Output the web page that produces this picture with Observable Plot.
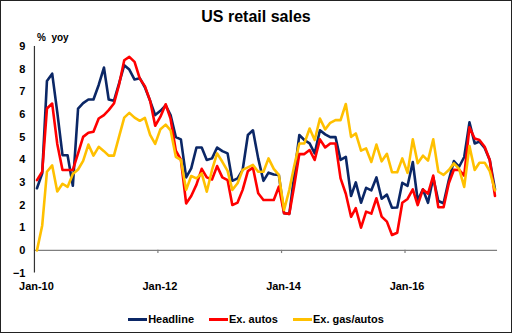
<!DOCTYPE html>
<html><head><meta charset="utf-8">
<script src="https://cdn.jsdelivr.net/npm/d3@7"></script>
<script src="https://cdn.jsdelivr.net/npm/@observablehq/plot@0.6"></script>
<style>
body{margin:0;background:#fff;}
#wrap{position:relative;width:512px;height:333px;box-sizing:border-box;border:1px solid #222;font-family:"Liberation Sans",Arial,sans-serif;overflow:hidden;background:#fff;color:#000}
#title{position:absolute;left:0;right:0;top:6px;text-align:center;font-weight:bold;font-size:16px;line-height:20px;}
#unit{position:absolute;left:36px;top:31px;font-weight:bold;font-size:10px;line-height:12px;white-space:pre}
#chart{position:absolute;left:-1px;top:27px}
#legend{position:absolute;left:0;right:0;top:312px;display:flex;justify-content:center;gap:15px;font-weight:bold;font-size:11px;line-height:12px}
#legend .it{display:flex;align-items:center}
#legend .sw{display:inline-block;width:19px;height:3px;margin-right:1px}
</style></head>
<body>
<div id="wrap">
  <div id="title">US retail sales</div>
  <div id="unit">%  yoy</div>
  <div id="chart"></div>
  <div id="legend"></div>
</div>
<script>
// Monthly, Jan-2010 ... Jun-2017 (% yoy)
const startYear = 2010;
const headline = [2.74,3.4,7.48,7.8,6.1,4.2,4.2,2.85,6.26,6.5,6.66,6.66,
  7.3,8.07,6.66,6.6,7.36,8.17,7.98,7.54,7.6,7.2,6.6,5.97,
  6.16,6.4,5.97,5.0,4.9,3.22,3.62,4.54,4.54,3.99,4.06,4.54,
  4.38,4.28,3.07,3.18,3.55,5.09,5.3,4.06,3.07,3.43,3.35,3.33,
  1.64,1.61,3.25,5.09,4.87,4.72,4.28,5.3,5.12,5.0,5.0,3.99,
  4.13,2.4,3.0,2.1,2.76,2.65,3.22,2.28,2.46,1.88,1.89,2.98,
  2.85,3.9,2.2,2.69,2.1,3.22,2.18,2.08,3.1,3.94,3.69,4.12,
  5.65,4.72,4.8,4.52,3.99,2.7];
const exAutos = [3.1,3.47,6.26,6.48,4.7,3.55,3.55,3.55,4.28,5.01,5.19,5.24,
  5.82,5.97,6.19,6.48,7.3,8.39,8.54,8.32,7.58,7.25,6.6,5.5,
  5.9,6.45,5.8,4.4,4.0,2.07,2.4,2.9,3.6,3.22,3.13,3.72,
  3.22,3.1,2.0,2.11,2.67,3.5,3.65,2.52,2.22,2.22,2.22,2.81,
  1.64,1.61,2.81,4.25,4.25,4.43,3.99,4.9,4.54,4.72,4.72,3.18,
  2.5,1.48,1.86,1.0,1.71,1.62,2.3,1.49,1.27,0.68,0.78,2.1,
  2.27,2.69,2.0,2.69,2.5,3.3,1.9,1.9,2.96,3.56,3.55,3.3,
  5.43,4.94,4.87,4.57,3.99,2.4];
const exGasAutos = [0,1.1,3.47,3.75,2.6,2.94,2.8,3.37,3.57,3.95,4.67,4.18,
  4.57,4.38,4.18,4.18,5.01,5.86,6.07,5.86,5.72,5.85,5.1,4.7,
  5.35,5.55,5.3,4.13,3.99,2.67,3.28,3.18,3.4,2.59,3.55,4.28,
  3.91,3.51,2.67,2.96,3.55,3.66,3.77,3.47,3.47,4.06,3.6,3.33,
  1.78,2.67,3.69,4.72,4.72,5.38,4.87,5.82,5.34,5.63,5.75,5.75,
  6.46,5.01,5.16,4.4,4.5,3.9,4.67,3.93,4.26,3.45,3.45,4.06,
  3.42,4.9,3.85,4.18,3.96,4.9,3.47,3.33,3.55,3.84,3.6,2.8,
  4.6,3.55,3.87,3.87,3.5,2.65];
const seriesNames = ["Headline","Ex. autos","Ex. gas/autos"];
const seriesColors = ["#0B2766","#FF0000","#FFC000"];
const tickYears = [2010,2012,2014,2016];
const tickLabels = ["Jan-10","Jan-12","Jan-14","Jan-16"];
const yTicks = [-1,0,1,2,3,4,5,6,7,8,9];

const dates = headline.map((_, i) => new Date(Date.UTC(startYear, i, 16)));
const rows = dates.map((d, i) => ({date: d, h: headline[i], a: exAutos[i], g: exGasAutos[i]}));
const tickDates = tickYears.map(y => new Date(Date.UTC(y, 0, 1)));
const x0 = new Date(Date.UTC(2010, 0, 1)), x1 = new Date(Date.UTC(2017, 6, 1));

const plot = Plot.plot({
  width: 512, height: 272,
  marginLeft: 34, marginRight: 14, marginTop: 18, marginBottom: 27,
  style: {fontFamily: "'Liberation Sans', Arial, sans-serif", fontSize: "11px", fontWeight: "bold", color: "#000", background: "transparent", overflow: "visible"},
  x: {type: "utc", domain: [x0, x1]},
  y: {domain: [-1, 9]},
  marks: [
    Plot.axisY({ticks: yTicks, tickSize: 0, tickPadding: 9, label: null, fill: "#000"}),
    Plot.axisX({ticks: tickDates, tickSize: 0, tickPadding: 9, label: null, dx: 2, fill: "#000",
      tickFormat: d => tickLabels[tickDates.findIndex(t => +t === +d)]}),
    Plot.ruleY([0], {stroke: "#7f7f7f", strokeWidth: 1.3}),
    Plot.ruleX(tickDates.slice(1), {x: d => d, y1: 0, y2: -0.14, stroke: "#7f7f7f", strokeWidth: 1.2}),
    Plot.ruleX([x0], {y1: -1, y2: 9, stroke: "#333", strokeWidth: 1.2}),
    Plot.line(rows, {x: "date", y: "h", stroke: seriesColors[0], strokeWidth: 2.6}),
    Plot.line(rows, {x: "date", y: "a", stroke: seriesColors[1], strokeWidth: 2.6}),
    Plot.line(rows, {x: "date", y: "g", stroke: seriesColors[2], strokeWidth: 2.6})
  ]
});
document.getElementById("chart").appendChild(plot);

const legend = document.getElementById("legend");
seriesNames.forEach((n, i) => {
  const it = document.createElement("span"); it.className = "it";
  const sw = document.createElement("span"); sw.className = "sw"; sw.style.background = seriesColors[i];
  it.appendChild(sw); it.appendChild(document.createTextNode(n));
  legend.appendChild(it);
});
</script>
</body></html>
